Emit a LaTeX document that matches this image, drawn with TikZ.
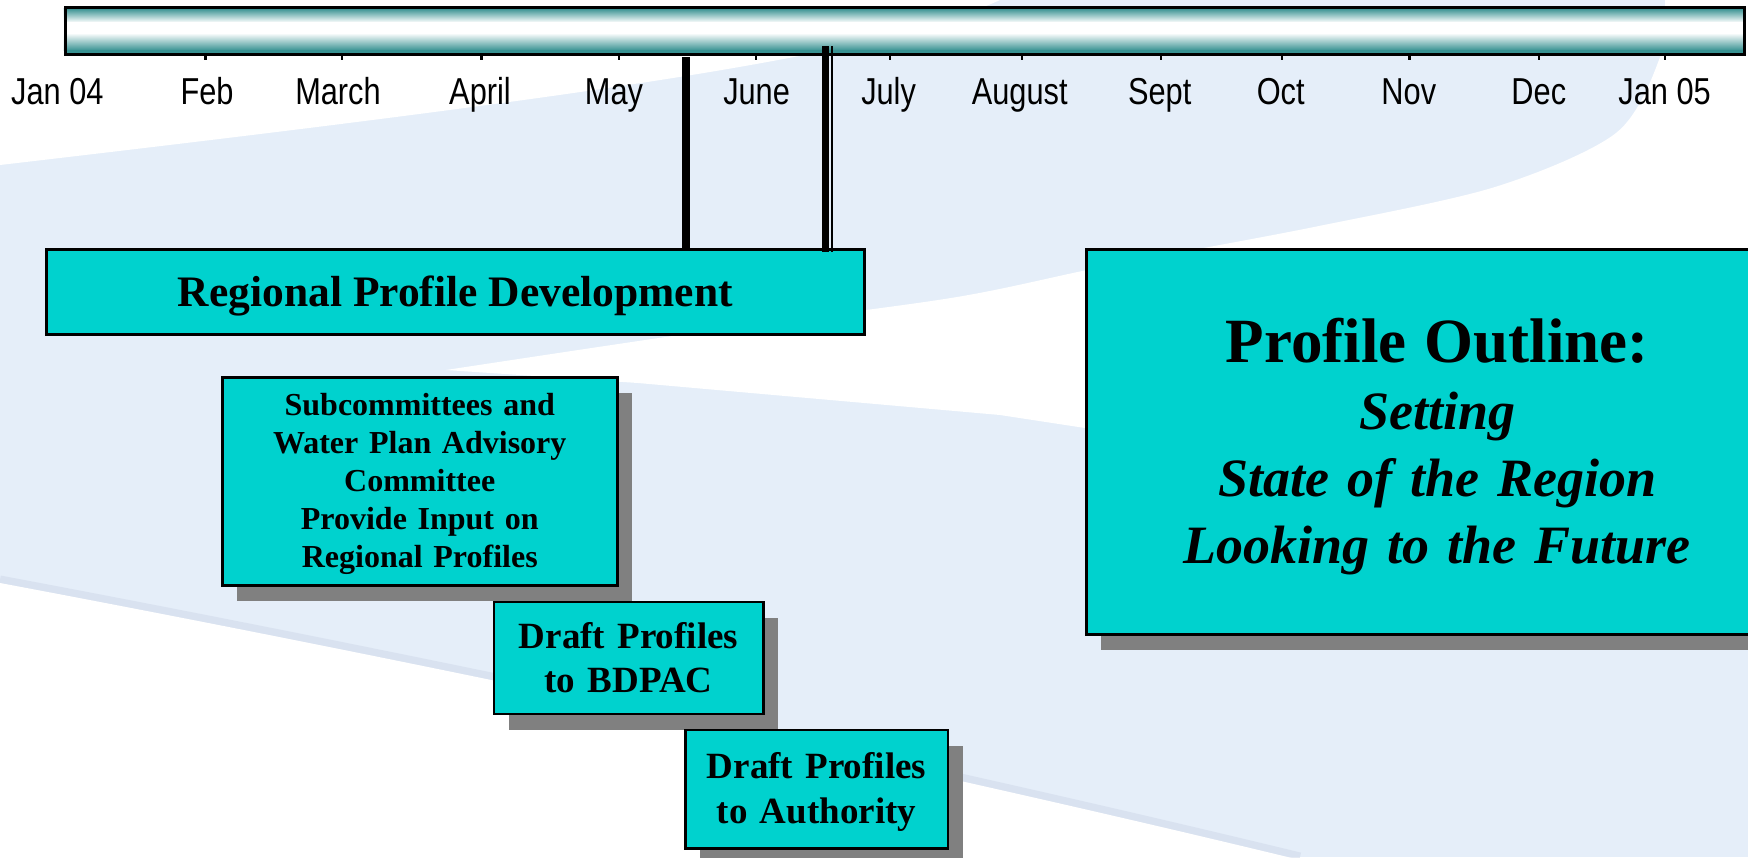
\documentclass[tikz,border=0pt]{standalone}
\usepackage{fontspec}
\setmainfont{Liberation Serif}
\newfontfamily\monthfont[FakeStretch=0.82]{Liberation Sans}
\usetikzlibrary{shadows}
\definecolor{bgblue}{RGB}{229,238,249}
\definecolor{boxcyan}{RGB}{0,210,206}
\definecolor{shadowgray}{RGB}{128,128,128}
\definecolor{barteal}{RGB}{56,146,146}
\definecolor{edgeblue}{RGB}{208,217,234}
\begin{document}
\begin{tikzpicture}[x=1pt,y=-1pt,
  tlbox/.style={draw=black, line width=2.5pt, fill=boxcyan, inner sep=0pt, anchor=north west, align=center},
  shadowed/.style={general shadow={draw=none, fill=shadowgray, shadow xshift=15pt, shadow yshift=-16pt}},
  month/.style={anchor=base, inner sep=0pt, font=\monthfont\fontsize{37.5}{45}\selectfont},
  tickmark/.style={line width=2.2pt},
  marker/.style={line width=#1, line cap=butt},
]
\useasboundingbox (0,0) rectangle (1748,857);
\clip (0,0) rectangle (1748,857);
% background
\fill[bgblue] (0,0) rectangle (1748,857);
\fill[white] (0,0) -- (1000,0) .. controls (880,55) and (600,95) .. (0,165) -- cycle;
\fill[white] plot[smooth] coordinates {(446,370) (700,332) (951,298) (1102,267) (1314,227) (1495,187) (1616,133) (1660,57) (1665,0)} -- (1748,0) -- (1748,540) -- (1085,428) -- (1000,415) -- (638,383) -- cycle;
\draw[edgeblue, line width=9pt, opacity=0.55] (0,580) .. controls (400,655) and (900,760) .. (1300,857);
\fill[white] (0,583) .. controls (400,658) and (900,763) .. (1300,860) -- (0,860) -- cycle;
% timeline bar (gradient body, then outline node)
\fill[barteal] (63.8,6) rectangle (1743,9);
\fill[top color=barteal, middle color=barteal!62!white, bottom color=white] (63.8,8.5) rectangle (1743,22.5);
\fill[white] (63.8,22) rectangle (1743,33.5);
\fill[top color=white, middle color=barteal!58!white, bottom color=barteal] (63.8,33) rectangle (1743,50.5);
\fill[barteal] (63.8,50) rectangle (1743,53);
\node[draw=black, line width=3pt, minimum width=1679pt, minimum height=47pt, inner sep=0pt, anchor=north west] (bar) at (63.8,6) {};
\foreach \x in {205.4,341.9,481.5,618.7,755.8,889.7,1021.9,1161,1281.9,1409.4,1538.8,1664.6}
  \draw[tickmark] (\x,53) -- (\x,60);
% month labels
\node[month] (mjan04) at (57.4,104) {Jan 04};
\node[month] (mfeb) at (207,104) {Feb};
\node[month] (mmar) at (338,104) {March};
\node[month] (mapr) at (480,104) {April};
\node[month] (mmay) at (614,104) {May};
\node[month] (mjun) at (756.6,104) {June};
\node[month] (mjul) at (888.6,104) {July};
\node[month] (maug) at (1019.7,104) {August};
\node[month] (msep) at (1159.7,104) {Sept};
\node[month] (moct) at (1280.7,104) {Oct};
\node[month] (mnov) at (1408.8,104) {Nov};
\node[month] (mdec) at (1538.8,104) {Dec};
\node[month] (mjan05) at (1664.6,104) {Jan 05};
% boxes
\node[tlbox, minimum width=818pt, minimum height=85pt, text height=28.8pt, text depth=0pt,
  font=\bfseries\fontsize{43.5}{50}\selectfont] (rpd) at (45,248) {Regional Profile Development};
\node[tlbox, shadowed, minimum width=395pt, minimum height=208pt, text width=380pt, text height=21.2pt, text depth=152pt,
  font=\bfseries\fontsize{32}{38}\selectfont] (sub) at (221,376)
  {Subcommittees and\\Water Plan Advisory\\Committee\\Provide Input on\\Regional Profiles};
\node[tlbox, shadowed, minimum width=269.5pt, minimum height=112pt, text width=260pt, text height=24.5pt, text depth=44pt,
  font=\bfseries\fontsize{37}{44}\selectfont] (bdpac) at (492.5,600.5) {Draft Profiles\\to BDPAC};
\node[tlbox, shadowed, minimum width=262.5pt, minimum height=118.5pt, text width=255pt, text height=24.5pt, text depth=45pt,
  font=\bfseries\fontsize{37}{45}\selectfont] (auth) at (684,728.5) {Draft Profiles\\to Authority};
\node[tlbox, shadowed, minimum width=702pt, minimum height=385pt, text width=690pt, text height=41.7pt, text depth=201pt,
  font=\bfseries\fontsize{54}{67}\selectfont] (outline) at (1085,248)
  {{\fontsize{63}{67}\selectfont Profile Outline:}\\\textit{Setting}\\\textit{State of the Region}\\\textit{Looking to the Future}};
% milestone markers
\coordinate (v1) at (685.5,57);
\draw[marker=8pt] (v1) -- (v1 |- rpd.north);
\coordinate (v2) at (825,46);
\path (v2 |- rpd.north) ++(0,4) coordinate (v2e);
\draw[marker=7pt] (v2) -- (v2e);
\coordinate (v3) at (831.7,46);
\path (v3 |- rpd.north) ++(0,4) coordinate (v3e);
\draw[marker=2pt] (v3) -- (v3e);
\end{tikzpicture}
\end{document}
